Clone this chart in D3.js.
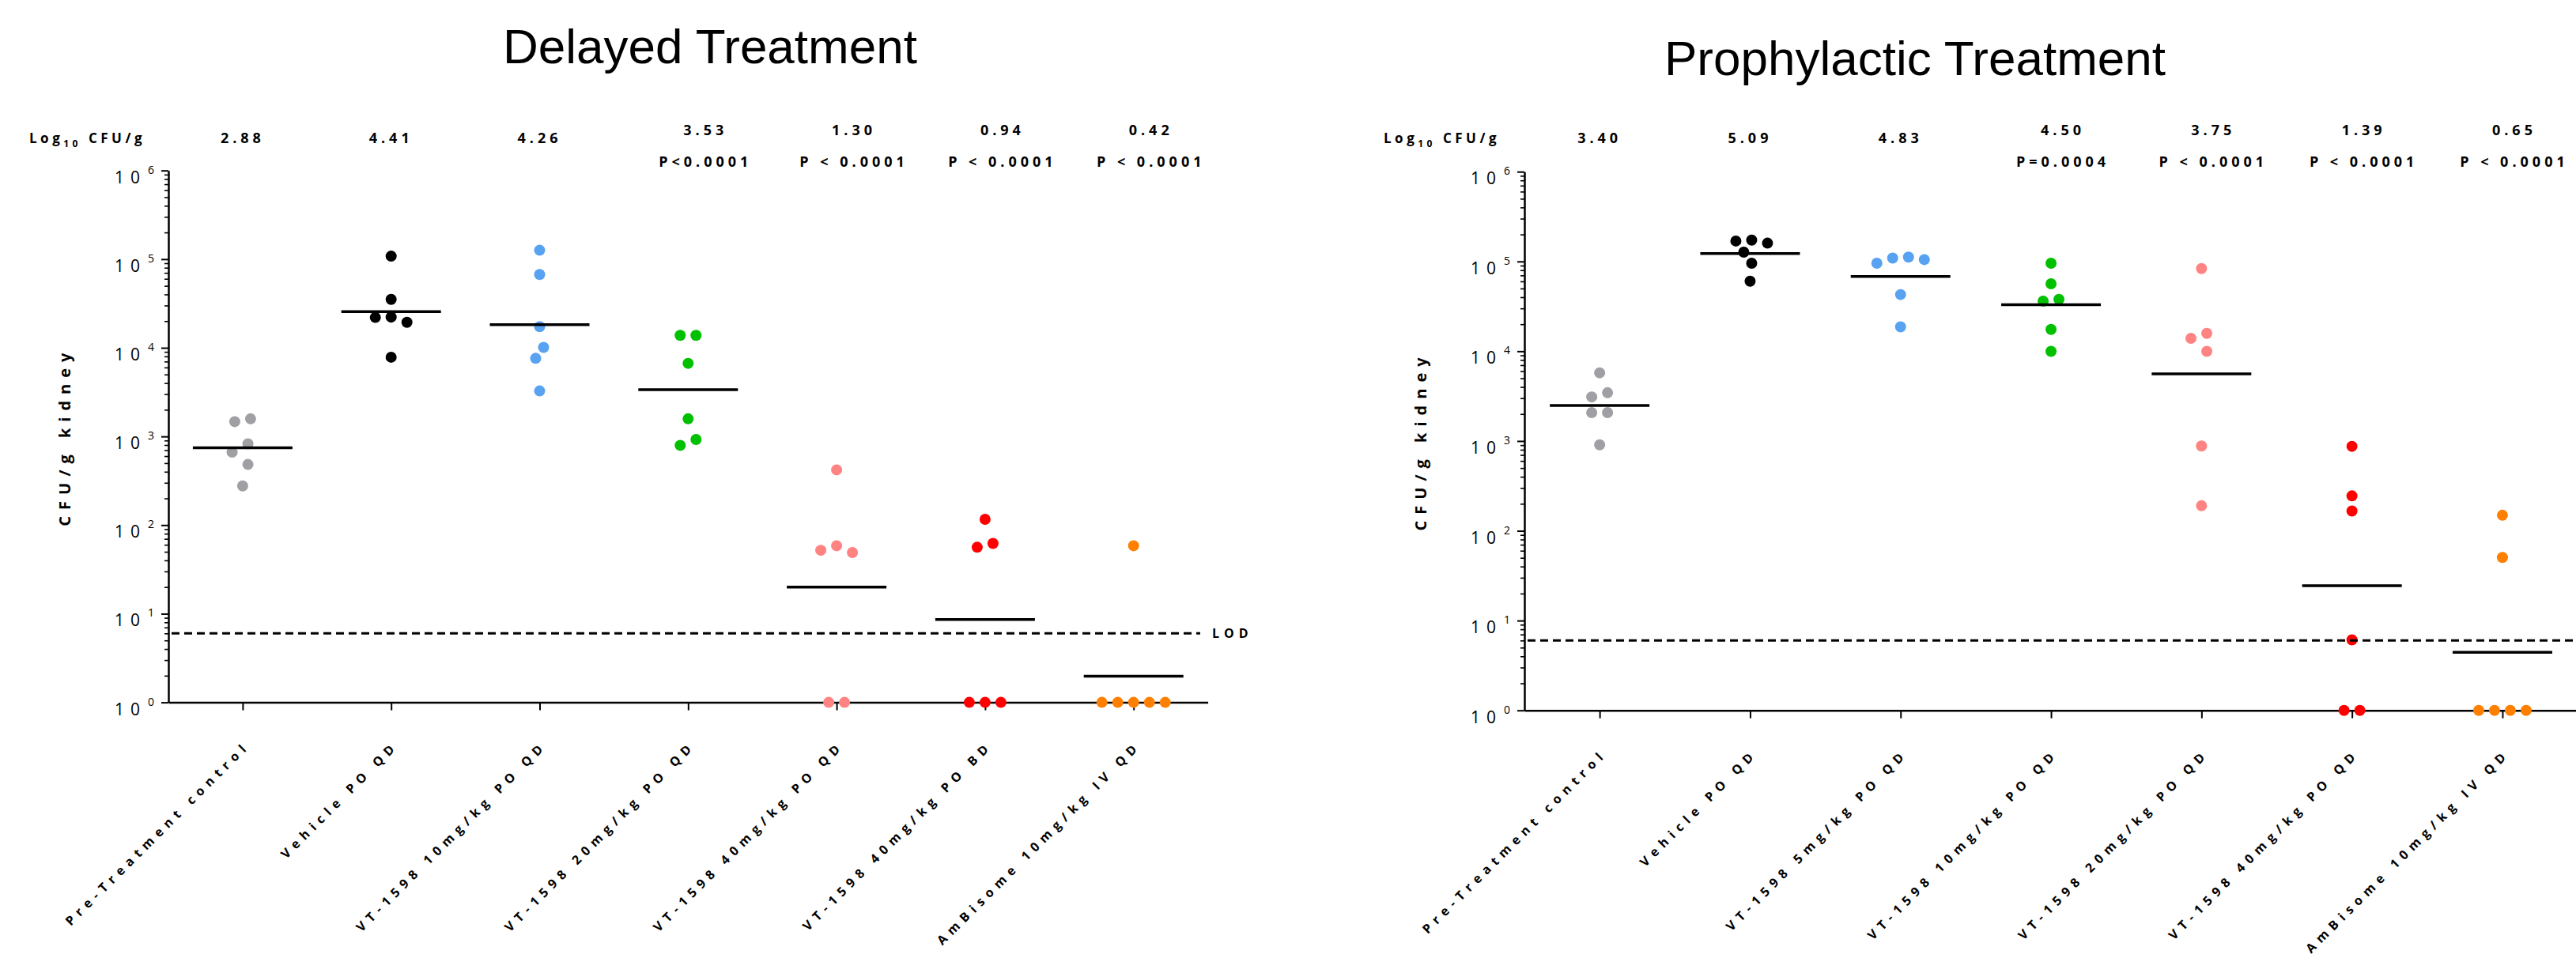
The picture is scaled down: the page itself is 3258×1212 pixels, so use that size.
<!DOCTYPE html>
<html>
<head>
<meta charset="utf-8">
<script src="https://cdn.jsdelivr.net/npm/d3@7"></script>
<style>
  body { margin: 0; background: #fff; }
  svg { display: block; }
  text { font-family: "Open Sans", "DejaVu Sans", sans-serif; fill: #000; }
  .title { font-family: "Liberation Sans", Arial, sans-serif; font-size: 62px; }
</style>
</head>
<body>
<svg id="chart" width="3258" height="1212"></svg>
<script>
// group names (x categories)
const delayedGroups = [
    "Pre-Treatment control", "Vehicle PO QD", "VT-1598 10mg/kg PO QD", "VT-1598 20mg/kg PO QD",
    "VT-1598 40mg/kg PO QD", "VT-1598 40mg/kg PO BD", "AmBisome 10mg/kg IV QD"
];
const prophylacticGroups = [
    "Pre-Treatment control", "Vehicle PO QD", "VT-1598 5mg/kg PO QD", "VT-1598 10mg/kg PO QD",
    "VT-1598 20mg/kg PO QD", "VT-1598 40mg/kg PO QD", "AmBisome 10mg/kg IV QD"
];
const groupColours = ["#a0a0a4", "#000000", "#58a2f2", "#00c000", "#ff8383", "#ff0000", "#ff8000"];

// CFU per g kidney, one row per mouse group (values under the LOD are shown at 1)
const delayedCfu = [
    [1580, 1470, 826, 664, 483, 277],
    [108000, 35200, 22200, 22000, 19400, 7830],
    [126000, 67100, 17300, 10100, 7600, 3260],
    [13800, 13800, 6680, 1580, 923, 794],
    [420, 58.5, 52, 49, 1, 1],
    [116, 62.1, 56.2, 1, 1, 1],
    [58.5, 1, 1, 1, 1, 1]
];
const prophylacticCfu = [
    [5750, 3450, 3100, 2070, 2070, 908],
    [173000, 169000, 160000, 127000, 95700, 60300],
    [112000, 109000, 105000, 95700, 42800, 18700],
    [95700, 56400, 37900, 36100, 17500, 9980],
    [83400, 15800, 13900, 9980, 881, 190],
    [873, 245, 166, 6.1, 1, 1],
    [149, 50.5, 1, 1, 1, 1]
];

const delayedMeanLabels = ["2.88", "4.41", "4.26", "3.53", "1.30", "0.94", "0.42"];
const delayedPLabels = ["", "", "", "P<0.0001", "P < 0.0001", "P < 0.0001", "P < 0.0001"];
const prophylacticMeanLabels = ["3.40", "5.09", "4.83", "4.50", "3.75", "1.39", "0.65"];
const prophylacticPLabels = ["", "", "", "P=0.0004", "P < 0.0001", "P < 0.0001", "P < 0.0001"];

const lodCfu = 6;
const yMajorTicks = [1, 10, 100, 1e3, 1e4, 1e5, 1e6];
const yMinorTicks = [];
for (let e = 0; e < 6; e++) for (let m = 2; m <= 9; m++) yMinorTicks.push(m * Math.pow(10, e));

const panels = [
    {
        title: "Delayed Treatment", groups: delayedGroups, cfu: delayedCfu,
        means: delayedMeanLabels, pvals: delayedPLabels,
        left: 213, band: 187.8, top: 215.7, bottom: 888.6,
        titleX: 898, titleY: 80, headerX: 37, statShift: 22, lodEnd: 1518, lodLabel: true
    },
    {
        title: "Prophylactic Treatment", groups: prophylacticGroups, cfu: prophylacticCfu,
        means: prophylacticMeanLabels, pvals: prophylacticPLabels,
        left: 1928, band: 190.3, top: 217.2, bottom: 898.7,
        titleX: 2422, titleY: 95, headerX: 1750, statShift: 15, lodEnd: 3258, lodLabel: false
    }
];

// simple beeswarm: stack colliding dots sideways, then centre each touching cluster
const swarm = (vals, yScale, step, minDist) => {
    const pts = vals.map(v => ({ v, py: yScale(v), slot: 0 })).sort((a, b) => a.py - b.py);
    const placed = [];
    pts.forEach(p => {
        for (let k = 0; k < 40; k++) {
            const slot = k === 0 ? 0 : (k % 2 ? -Math.ceil(k / 2) : k / 2);
            const ok = placed.every(q => Math.hypot((slot - q.slot) * step, p.py - q.py) >= minDist);
            if (ok) { p.slot = slot; break; }
        }
        placed.push(p);
    });
    let cluster = [];
    const flush = () => {
        const m = d3.mean(cluster, d => d.slot);
        cluster.forEach(d => d.slot -= m);
        cluster = [];
    };
    pts.forEach((p, j) => {
        if (j > 0 && p.py - pts[j - 1].py >= minDist) flush();
        cluster.push(p);
    });
    flush();
    return pts;
};

const svg = d3.select("#chart");

const drawPanel = (p) => {
    const g = svg.append("g");
    const right = p.left + p.band * p.groups.length;

    const y = d3.scaleLog().domain([1, 1e6]).range([p.bottom, p.top]);
    const x = d3.scalePoint().domain(p.groups).range([p.left, right]).padding(0.5);

    g.append("text")
        .attr("class", "title")
        .attr("x", p.titleX)
        .attr("y", p.titleY)
        .attr("text-anchor", "middle")
        .text(p.title);

    // y axis: minor then major ticks
    const minorG = g.append("g")
        .attr("transform", `translate(${p.left},0)`)
        .call(d3.axisLeft(y).tickValues(yMinorTicks).tickSize(5).tickSizeOuter(0).tickFormat(""));
    minorG.select(".domain").remove();
    minorG.selectAll("line").attr("stroke-width", 1.6);

    const majorG = g.append("g")
        .attr("transform", `translate(${p.left},0)`)
        .call(d3.axisLeft(y).tickValues(yMajorTicks).tickSize(9).tickSizeOuter(0).tickFormat(""));
    majorG.select(".domain").attr("stroke-width", 2.5);
    majorG.selectAll("line").attr("stroke-width", 2);

    const yLabels = g.append("g").selectAll("text")
        .data(yMajorTicks)
        .join("text")
        .attr("x", p.left - 18)
        .attr("y", d => y(d) + 16)
        .attr("text-anchor", "end")
        .style("font-size", "21px");
    yLabels.append("tspan")
        .style("letter-spacing", "8px")
        .text("10");
    yLabels.append("tspan")
        .attr("dy", -12)
        .attr("dx", 2)
        .style("font-size", "14px")
        .text(d => Math.round(Math.log10(d)));

    g.append("text")
        .attr("transform", `translate(${p.left - 124},${(p.top + p.bottom) / 2}) rotate(-90)`)
        .attr("text-anchor", "middle")
        .style("font-size", "20px")
        .style("font-weight", "bold")
        .style("letter-spacing", "8px")
        .text("CFU/g kidney");

    // x axis
    const xG = g.append("g")
        .attr("transform", `translate(0,${p.bottom})`)
        .call(d3.axisBottom(x).tickSize(10).tickSizeOuter(0).tickFormat(""));
    xG.select(".domain").attr("stroke-width", 2.5);
    xG.selectAll("line").attr("stroke-width", 2);

    g.append("g").selectAll("text")
        .data(p.groups)
        .join("text")
        .attr("transform", d => `translate(${x(d) + 10},${p.bottom + 56}) rotate(-45)`)
        .attr("text-anchor", "end")
        .style("font-size", "16px")
        .style("font-weight", "bold")
        .style("letter-spacing", "6.8px")
        .text(d => d);

    // header row: log10 means and p values
    const head = g.append("text")
        .attr("x", p.headerX)
        .attr("y", 181)
        .style("font-size", "17px")
        .style("font-weight", "bold")
        .style("letter-spacing", "4.5px");
    head.append("tspan").text("Log");
    head.append("tspan").attr("dy", 5).style("font-size", "12px").text("10");
    head.append("tspan").attr("dy", -5).text(" CFU/g");

    g.append("g").selectAll("text")
        .data(p.means)
        .join("text")
        .attr("x", (d, i) => x(p.groups[i]) + (p.pvals[i] ? p.statShift : 0))
        .attr("y", (d, i) => p.pvals[i] ? 171 : 181)
        .attr("text-anchor", "middle")
        .style("font-size", "18px")
        .style("font-weight", "bold")
        .style("letter-spacing", "5px")
        .text(d => d);

    g.append("g").selectAll("text")
        .data(p.pvals)
        .join("text")
        .attr("x", (d, i) => x(p.groups[i]) + p.statShift)
        .attr("y", 211)
        .attr("text-anchor", "middle")
        .style("font-size", "18px")
        .style("font-weight", "bold")
        .style("letter-spacing", "5px")
        .text(d => d);

    // dots
    p.cfu.forEach((vals, i) => {
        const cx = x(p.groups[i]);
        g.append("g").selectAll("circle")
            .data(swarm(vals, y, 10, 17))
            .join("circle")
            .attr("cx", d => cx + d.slot * 10)
            .attr("cy", d => d.py)
            .attr("r", 7)
            .attr("fill", groupColours[i]);
    });

    // geometric mean lines
    g.append("g").selectAll("line")
        .data(p.cfu)
        .join("line")
        .attr("x1", (d, i) => x(p.groups[i]) - 63)
        .attr("x2", (d, i) => x(p.groups[i]) + 63)
        .attr("y1", d => y(Math.pow(10, d3.mean(d, v => Math.log10(v)))))
        .attr("y2", d => y(Math.pow(10, d3.mean(d, v => Math.log10(v)))))
        .attr("stroke", "#000")
        .attr("stroke-width", 3.5);

    // limit of detection
    g.append("line")
        .attr("x1", p.left + 4)
        .attr("x2", p.lodEnd)
        .attr("y1", y(lodCfu))
        .attr("y2", y(lodCfu))
        .attr("stroke", "#000")
        .attr("stroke-width", 3)
        .attr("stroke-dasharray", "10,6");

    if (p.lodLabel) {
        g.append("text")
            .attr("x", p.lodEnd + 15)
            .attr("y", y(lodCfu) + 6)
            .style("font-size", "16px")
            .style("font-weight", "bold")
            .style("letter-spacing", "6px")
            .text("LOD");
    }
};

panels.forEach(drawPanel);
</script>
</body>
</html>
